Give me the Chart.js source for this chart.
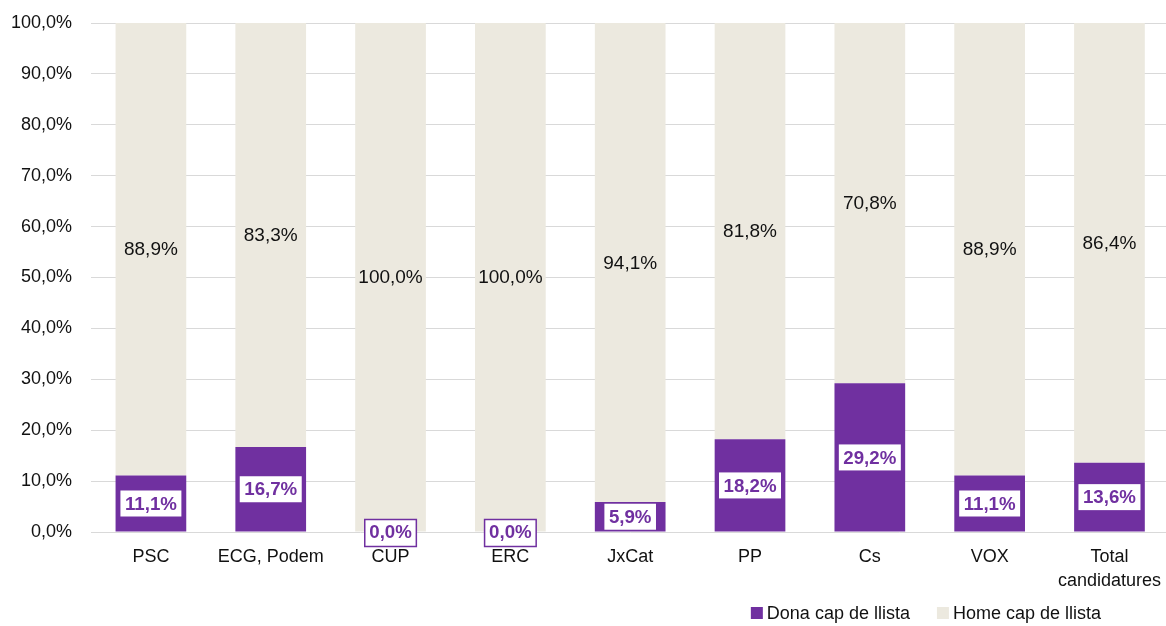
<!DOCTYPE html>
<html>
<head>
<meta charset="utf-8">
<script src="https://cdn.jsdelivr.net/npm/chart.js@4"></script>
<style>
  html, body { margin: 0; padding: 0; background: #fff; overflow: hidden; }
  #wrap { width: 1175px; height: 626px; position: relative; }
</style>
</head>
<body>
<div id="wrap"><canvas id="c"></canvas></div>
<script>
const categories = ['PSC', 'ECG, Podem', 'CUP', 'ERC', 'JxCat', 'PP', 'Cs', 'VOX', ['Total', 'candidatures']];
const donaValues = [11.1, 16.7, 0.0, 0.0, 5.9, 18.2, 29.2, 11.1, 13.6];
const homeValues = [88.9, 83.3, 100.0, 100.0, 94.1, 81.8, 70.8, 88.9, 86.4];
const seriesNames = ['Dona cap de llista', 'Home cap de llista'];

const PURPLE = '#7030A0';
const BEIGE = '#ECE9DF';
const TEXT = '#111111';
const FONT = '"Liberation Sans", Arial, sans-serif';

function fmt(v) { return v.toFixed(1).replace('.', ',') + '%'; }

const labelPlugin = {
  id: 'barLabels',
  afterDatasetsDraw(chart) {
    const ctx = chart.ctx;
    ctx.save();
    ctx.textAlign = 'center';
    ctx.textBaseline = 'middle';
    chart.data.datasets.forEach((ds, di) => {
      const meta = chart.getDatasetMeta(di);
      meta.data.forEach((el, i) => {
        const v = ds.data[i];
        const cx = el.x;
        const cy = (el.y + el.base) / 2;
        const txt = fmt(v);
        if (di === 0) {
          ctx.font = 'bold 18.7px ' + FONT;
          const w = ctx.measureText(txt).width + 9;
          const h = 26;
          ctx.fillStyle = '#fff';
          ctx.fillRect(cx - w / 2, cy - h / 2, w, h);
          if (v === 0) {
            ctx.strokeStyle = PURPLE;
            ctx.lineWidth = 1.5;
            ctx.strokeRect(cx - w / 2, cy - h / 2 + 0.5, w, h + 1);
          }
          ctx.fillStyle = PURPLE;
          ctx.fillText(txt, cx, cy + 1);
        } else {
          ctx.font = '19px ' + FONT;
          ctx.fillStyle = TEXT;
          ctx.fillText(txt, cx, cy + 1);
        }
      });
    });
    ctx.restore();
  }
};

const legendPlugin = {
  id: 'customLegend',
  afterDraw(chart) {
    const ctx = chart.ctx;
    ctx.save();
    ctx.font = '18px ' + FONT;
    ctx.textBaseline = 'middle';
    ctx.textAlign = 'left';
    const box = 12, gapText = 4, gapItem = 27, endX = 1101, y = 613;
    const items = chart.data.datasets.map(d => ({ label: d.label, color: d.backgroundColor, w: ctx.measureText(d.label).width }));
    let total = 0;
    items.forEach((it, i) => { total += box + gapText + it.w + (i > 0 ? gapItem : 0); });
    let x = endX - total;
    items.forEach((it, i) => {
      if (i > 0) x += gapItem;
      ctx.fillStyle = it.color;
      ctx.fillRect(x, y - 6, box, box);
      x += box + gapText;
      ctx.fillStyle = TEXT;
      ctx.fillText(it.label, x, y + 1);
      x += it.w;
    });
    ctx.restore();
  }
};

new Chart(document.getElementById('c'), {
  type: 'bar',
  data: {
    labels: categories,
    datasets: [
      { label: seriesNames[0], data: donaValues, backgroundColor: PURPLE, borderWidth: 0 },
      { label: seriesNames[1], data: homeValues, backgroundColor: BEIGE, borderWidth: 0 }
    ]
  },
  options: {
    responsive: true,
    maintainAspectRatio: false,
    animation: false,
    events: [],
    layout: { padding: { top: 23, left: 12, right: 0, bottom: 32 } },
    datasets: { bar: { categoryPercentage: 1.0, barPercentage: 0.59 } },
    scales: {
      x: {
        stacked: true,
        grid: { display: false, drawTicks: false },
        border: { display: false },
        ticks: { color: TEXT, font: { family: FONT, size: 18, lineHeight: 1.28 }, padding: 14, maxRotation: 0, autoSkip: false },
        afterFit(scale) { scale.height = 62; }
      },
      y: {
        stacked: true,
        min: 0,
        max: 100,
        grid: { color: '#D9D9D9', lineWidth: 1, drawTicks: false },
        border: { display: false },
        ticks: {
          stepSize: 10,
          color: TEXT,
          font: { family: FONT, size: 18 },
          padding: 19,
          callback: v => fmt(v)
        },
        afterFit(scale) { scale.width = 79; scale.paddingTop = 0; scale.paddingBottom = 0; }
      }
    },
    plugins: {
      legend: { display: false },
      tooltip: { enabled: false },
      title: { display: false }
    }
  },
  plugins: [labelPlugin, legendPlugin]
});
</script>
</body>
</html>
